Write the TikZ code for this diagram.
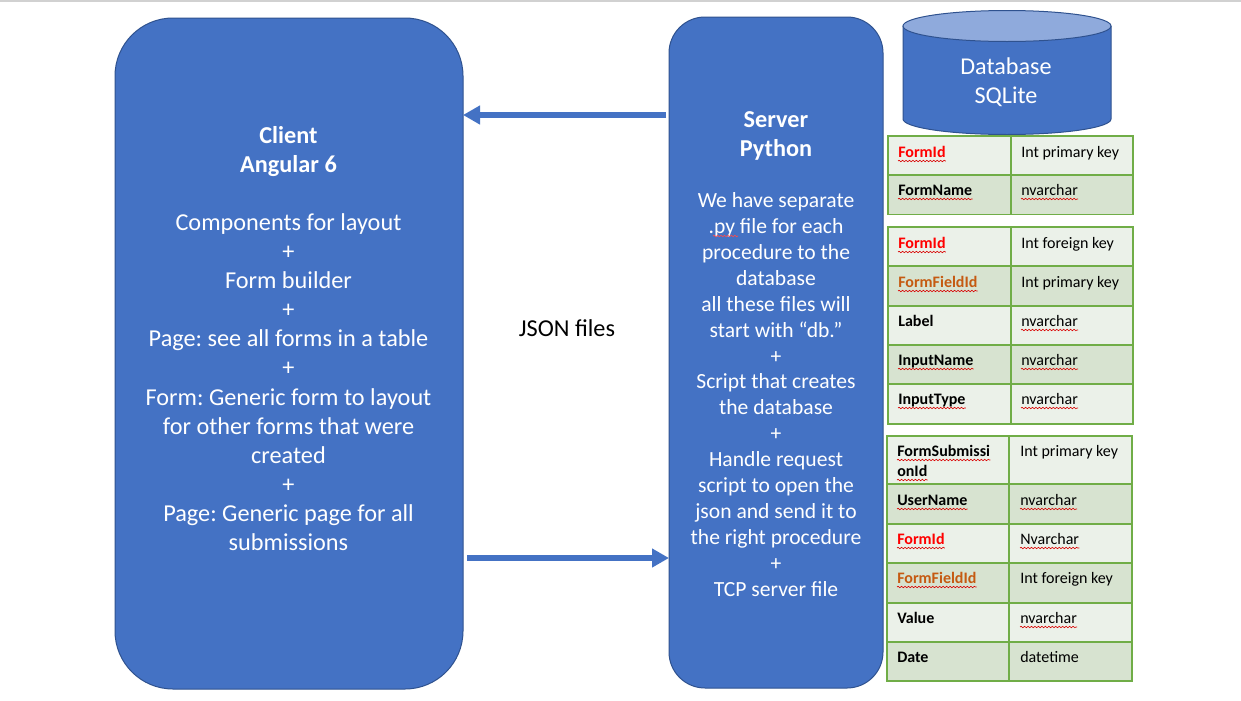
\documentclass[tikz,border=0pt]{standalone}
\usepackage{fontspec}
\setmainfont{Carlito}
\usetikzlibrary{arrows.meta,decorations.pathmorphing,shapes.geometric}
\frenchspacing
\definecolor{blueF}{HTML}{4472C4}
\definecolor{blueD}{HTML}{2F528F}
\definecolor{blueL}{HTML}{8FAADC}
\definecolor{rowL}{HTML}{EBF1E9}
\definecolor{rowD}{HTML}{D7E3D0}
\definecolor{grid}{HTML}{70AD47}
\definecolor{orangeK}{HTML}{C55A11}
\definecolor{redK}{HTML}{FF0000}
\tikzset{
  x=0.75pt,y=-0.75pt,
  panel/.style={draw=blueD,fill=blueF,line width=0.75pt},
  bigtext/.style={text=white,align=center,inner sep=0pt,font=\fontsize{18.2pt}{21.78pt}\selectfont\frenchspacing},
  srvtext/.style={text=white,align=center,inner sep=0pt,font=\fontsize{16.2pt}{19.43pt}\selectfont\frenchspacing},
  flow/.style={blueF,line width=4.5pt,-{Triangle[length=12.75pt,width=13.5pt]}},
  celltext/.style={inner sep=0pt,anchor=base west,text=black,font=\fontsize{12pt}{15pt}\selectfont,text depth=0pt},
  keytext/.style={celltext,font=\fontsize{12pt}{15pt}\selectfont\bfseries},
  squig/.style={draw=red!85!black,line width=0.45pt,decorate,decoration={snake,amplitude=0.55pt,segment length=2.6pt}},
  gridline/.style={draw=grid,line width=0.95pt}
}
\newcommand{\wcell}[6]{%
  \node[#4,text=#5] (#1) at (#2,#3) {#6};
  \draw[squig] ([yshift=-3pt]#1.base west) -- ([yshift=-3pt]#1.base east);}
\newcommand{\pcell}[6]{\node[#4,text=#5] (#1) at (#2,#3) {#6};}
\newcommand{\dbrow}[6]{%
  \fill[#6] (#1,#4) rectangle (#3,#5);
  \draw[gridline] (#1,#4) rectangle (#3,#5) (#2,#4) -- (#2,#5);}
\begin{document}
\begin{tikzpicture}
\useasboundingbox (0,0) rectangle (1241,700);
\fill[white] (0,0) rectangle (1241,700);
\fill[black!18] (0,0) rectangle (1241,1.5);
% Panels
\draw[panel,rounded corners=43.5pt] (115,18) rectangle (463,689);
\draw[panel,rounded corners=27pt] (669,17) rectangle (883,688);
\coordinate (clientE) at (463,353);
\coordinate (serverW) at (669,353);
\node[bigtext] (client) at (288.5,338.5) {\textbf{Client}\\\textbf{Angular 6}\\[21.78pt]Components for layout\\+\\Form builder\\+\\Page: see all forms in a table\\+\\Form: Generic form to layout\\for other forms that were\\created\\+\\Page: Generic page for all\\submissions};
\node[bigtext,font=\fontsize{18.2pt}{21.78pt}\selectfont\bfseries] (serverT) at (776,136) {Server\\Python};
\node[srvtext] (server) at (776,394.5) {We have separate\\.py file for each\\procedure to the\\database\\all these files will\\start with “db.”\\+\\Script that creates\\the database\\+\\Handle request\\script to open the\\json and send it to\\the right procedure\\+\\TCP server file};
\coordinate (pyA) at (713,236);
\coordinate (pyB) at (738,236);
\draw[squig,draw=red!70!white] (pyA) -- (pyB);
\node[inner sep=0pt,text=black,font=\fontsize{18.2pt}{21.78pt}\selectfont] (json) at (567,328) {JSON files};
% Arrows
\coordinate (fromServer) at (666,115);
\coordinate (fromClient) at (467,558);
\draw[flow] (fromServer) -- (clientE |- fromServer);
\draw[flow] (fromClient) -- (serverW |- fromClient);
% Database
\fill[blueF] (903,26) -- (903,119) arc[start angle=180,end angle=360,x radius=104,y radius=-15.5] -- (1111,26) -- cycle;
\draw[blueD,line width=0.75pt] (903,26) -- (903,119) arc[start angle=180,end angle=360,x radius=104,y radius=-15.5] -- (1111,26);
\draw[blueD,fill=blueL,line width=0.75pt] (1007,26) ellipse[x radius=104,y radius=15.5];
\node[srvtext,font=\fontsize{18.1pt}{21.78pt}\selectfont] (db) at (1006,82) {Database\\SQLite};
% Table 1
\dbrow{888}{1011}{1133}{136}{175}{rowL}
\dbrow{888}{1011}{1133}{175}{214.5}{rowD}
\wcell{aa}{898}{157}{keytext}{redK}{FormId}
\pcell{ab}{1021}{157}{celltext}{black}{Int primary key}
\wcell{ba}{898}{195}{keytext}{black}{FormName}
\wcell{bb}{1021}{195}{celltext}{black}{nvarchar}
% Table 2
\dbrow{888}{1011}{1133}{227}{266}{rowL}
\dbrow{888}{1011}{1133}{266}{306}{rowD}
\dbrow{888}{1011}{1133}{306}{345}{rowL}
\dbrow{888}{1011}{1133}{345}{384}{rowD}
\dbrow{888}{1011}{1133}{384}{424}{rowL}
\wcell{ca}{898}{248}{keytext}{redK}{FormId}
\pcell{cb}{1021}{248}{celltext}{black}{Int foreign key}
\wcell{da}{898}{287}{keytext}{orangeK}{FormFieldId}
\pcell{db2}{1021}{287}{celltext}{black}{Int primary key}
\pcell{ea}{898}{326}{keytext}{black}{Label}
\wcell{eb}{1021}{326}{celltext}{black}{nvarchar}
\wcell{fa}{898}{365}{keytext}{black}{InputName}
\wcell{fb}{1021}{365}{celltext}{black}{nvarchar}
\wcell{ga}{898}{404}{keytext}{black}{InputType}
\wcell{gb}{1021}{404}{celltext}{black}{nvarchar}
% Table 3
\dbrow{887}{1009}{1132}{436}{484}{rowL}
\dbrow{887}{1009}{1132}{484}{524}{rowD}
\dbrow{887}{1009}{1132}{524}{563}{rowL}
\dbrow{887}{1009}{1132}{563}{603}{rowD}
\dbrow{887}{1009}{1132}{603}{642}{rowL}
\dbrow{887}{1009}{1132}{642}{681}{rowD}
\wcell{ha}{897}{456}{keytext}{black}{FormSubmissi}
\wcell{ha2}{897}{476}{keytext}{black}{onId}
\pcell{hb}{1020}{456}{celltext}{black}{Int primary key}
\wcell{ia}{897}{505}{keytext}{black}{UserName}
\wcell{ib}{1020}{505}{celltext}{black}{nvarchar}
\wcell{ja}{897}{544}{keytext}{redK}{FormId}
\wcell{jb}{1020}{544}{celltext}{black}{Nvarchar}
\wcell{ka}{897}{583}{keytext}{orangeK}{FormFieldId}
\pcell{kb}{1020}{583}{celltext}{black}{Int foreign key}
\pcell{la}{897}{623}{keytext}{black}{Value}
\wcell{lb}{1020}{623}{celltext}{black}{nvarchar}
\pcell{ma}{897}{662}{keytext}{black}{Date}
\pcell{mb}{1020}{662}{celltext}{black}{datetime}
\end{tikzpicture}
\end{document}
